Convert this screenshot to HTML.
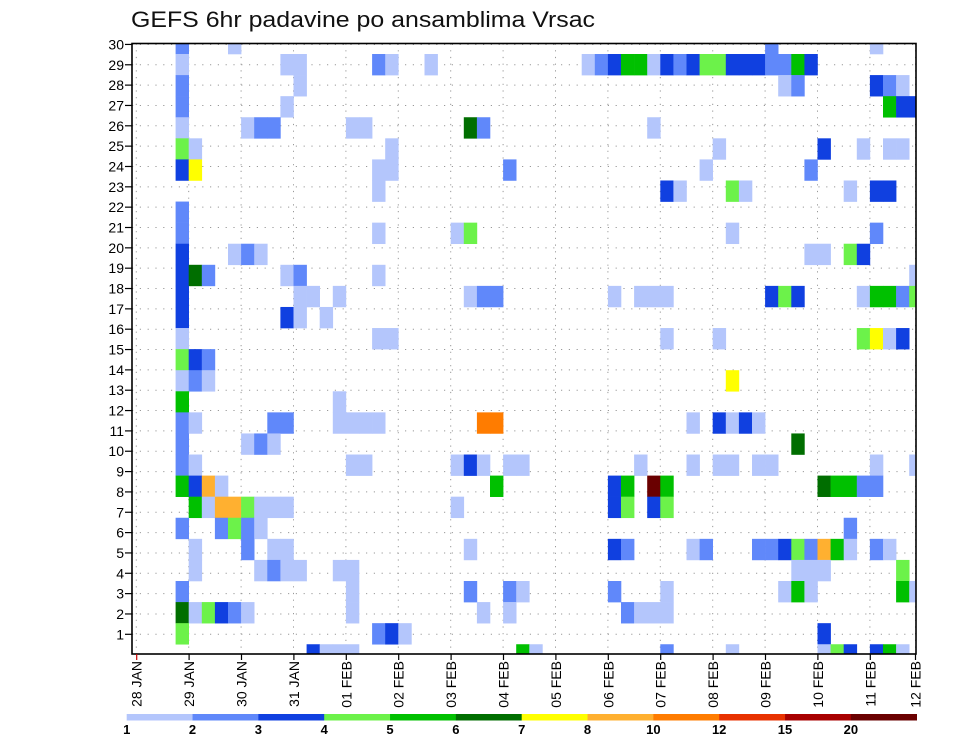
<!DOCTYPE html>
<html><head><meta charset="utf-8"><style>
html,body{margin:0;padding:0;background:#fff;}
svg{display:block;font-family:"Liberation Sans",sans-serif;}
</style></head><body>
<svg id="chart" width="960" height="742" viewBox="0 0 960 742" xmlns="http://www.w3.org/2000/svg">
<text x="131" y="27" font-size="22" textLength="464" lengthAdjust="spacingAndGlyphs" fill="#111">GEFS 6hr padavine po ansamblima Vrsac</text>
<g id="grid"></g>
<g id="cells"></g>
<g id="axes"></g>
<g id="legend"></g>
</svg>
<script>
const memberIds = [30,29,28,27,26,25,24,23,22,21,20,19,18,17,16,15,14,13,12,11,10,9,8,7,6,5,4,3,2,1];
const memberRows = [
"...b...a..|..........|..........|..........|........b.|......a...",
"...a......|.aa.....ba|..a.......|....abceea|cbcddcccbb|ec........",
"...b......|..a.......|..........|..........|.........a|b.....cba.",
"...b......|.a........|..........|..........|..........|.......ecc",
"...a....ab|b.....aa..|.....fb...|.........a|..........|..........",
"...da.....|.........a|..........|..........|....a.....|..c..a.aa.",
"...cg.....|........aa|........b.|..........|...a......|.b........",
"..........|........a.|..........|..........|ca...da...|....a.cc..",
"...b......|..........|..........|..........|..........|..........",
"...b......|........a.|....ad....|..........|.....a....|......b...",
"...c...aba|..........|..........|..........|..........|.aa.dc....",
"...cfb....|.ab.....a.|..........|..........|..........|.........a",
"...c......|..aa.a....|.....abb..|......a.aa|a.......cd|c....aeebd",
"...c......|.ca.a.....|..........|..........|..........|..........",
"...a......|........aa|..........|..........|a...a.....|.....dgac.",
"...dcb....|..........|..........|..........|..........|..........",
"...aba....|..........|..........|..........|.....g....|..........",
"...e......|.....a....|..........|..........|..........|..........",
"...ba.....|bb...aaaa.|......ii..|..........|..a.caca..|..........",
"...b....ab|a.........|..........|..........|..........|f.........",
"...ba.....|......aa..|....aca.aa|........a.|..a.aa.aa.|......a..a",
"...echa...|..........|.......e..|......ce.l|e.........|..feebb...",
"....eahhda|aa........|....a.....|......cd.c|d.........|..........",
"...b..bdba|..........|..........|..........|..........|....b.....",
"....a...b.|aa........|.....a....|......cb..|..ab...bbc|dbhea.ba..",
"....a....a|baa..aa...|..........|..........|..........|aaa.....d.",
"...b......|......a...|.....b..ba|......b...|a........a|ea......ea",
"...fadcba.|......a...|......a.a.|.......baa|a.........|..........",
"...d......|........bc|a.........|..........|..........|..c.......",
"..........|...caaa...|.........e|a.........|b....a....|..adc.cea."
];
const levelCodes = ["a","b","c","d","e","f","g","h","i","j","k","l"];
const levelColors = ["#b4c6fc","#6088fa","#1040e0","#6cf24a","#00c000","#006e00","#ffff00","#ffb030","#ff7c00","#e83200","#a80000","#6a0000"];
const levelLabels = ["1","2","3","4","5","6","7","8","10","12","15","20"];
const yTickLabels = [1,2,3,4,5,6,7,8,9,10,11,12,13,14,15,16,17,18,19,20,21,22,23,24,25,26,27,28,29,30];
const dayLabels = ["28 JAN","29 JAN","30 JAN","31 JAN","01 FEB","02 FEB","03 FEB","04 FEB","05 FEB","06 FEB","07 FEB","08 FEB","09 FEB","10 FEB","11 FEB","12 FEB"];

const NS="http://www.w3.org/2000/svg";
const PL=132, PR=916, PT=43.5, PB=654;
const STEPW=13.1;
function xStep(k){return 136.3+STEPW*k;}
const ROWH=21.08;
function yMemberTop(m){return 54+(29-m)*ROWH;}
function yTick(n){return 634.3-(n-1)*20.34;}
function mk(tag,attrs,parent){const e=document.createElementNS(NS,tag);for(const k in attrs)e.setAttribute(k,attrs[k]);parent.appendChild(e);return e;}

const grid=document.getElementById('grid');
const cells=document.getElementById('cells');
const axes=document.getElementById('axes');
const legend=document.getElementById('legend');

yTickLabels.forEach(n=>{const y=yTick(n);const l=mk('line',{x1:PL,x2:PR,y1:y,y2:y,stroke:'#999','stroke-width':1,'stroke-dasharray':'1.2 6.6'},grid);

});
dayLabels.forEach((d,i)=>{const x=Math.min(xStep(4*i),915.5);if(x<=PL||x>=PR)return;const l=mk('line',{x1:x,x2:x,y1:PT,y2:PB,stroke:'#999','stroke-width':1,'stroke-dasharray':'1.2 5.5'},grid);

});

const clip=mk('clipPath',{id:'pc'},document.getElementById('chart'));
mk('rect',{x:PL,y:PT,width:PR-PL,height:PB-PT},clip);
cells.setAttribute('clip-path','url(#pc)');
memberRows.forEach((raw,ri)=>{const row=raw.replace(/\|/g,'').padEnd(60,'.').slice(0,60);const m=memberIds[ri];const y=yMemberTop(m);
for(let k=0;k<row.length;k++){const ci=levelCodes.indexOf(row[k]);if(ci<0)continue;
const r=mk('rect',{x:xStep(k),y:y,width:STEPW+0.3,height:ROWH+0.3,fill:levelColors[ci]},cells);

}});

const fr=mk('rect',{x:PL,y:PT,width:PR-PL,height:PB-PT,fill:'none',stroke:'#000','stroke-width':1.6},axes);



yTickLabels.forEach(n=>{const y=yTick(n);
const t=mk('line',{x1:PL-7,x2:PL,y1:y,y2:y,stroke:'#000','stroke-width':1.2},axes);


const tx=mk('text',{x:124,y:y+5,'font-size':14,'text-anchor':'end',fill:'#000'},axes);tx.textContent=n;

});

dayLabels.forEach((d,i)=>{const x=Math.min(xStep(4*i)+0.4,915.5);
const t=mk('line',{x1:x,x2:x,y1:PB,y2:PB+6,stroke:i===0?'#c00':'#000','stroke-width':1.2},axes);


const tx=mk('text',{x:0,y:0,'font-size':14,'text-anchor':'end',fill:'#000',transform:'translate('+(x+5)+',661) rotate(-90)','xml:space':'preserve'},axes);
tx.textContent=d.replace(' ','  ');

});

const CB0=126.7, CB1=916.7, segW=(CB1-CB0)/levelColors.length;
levelColors.forEach((c,i)=>{const r=mk('rect',{x:CB0+segW*i,y:714,width:segW+0.3,height:6.5,fill:c},legend);

});
levelLabels.forEach((l,i)=>{const tx=mk('text',{x:CB0+segW*i,y:734,'font-size':13,'font-weight':'bold','text-anchor':'middle',fill:'#000'},legend);tx.textContent=l;

});
</script>
</body></html>
